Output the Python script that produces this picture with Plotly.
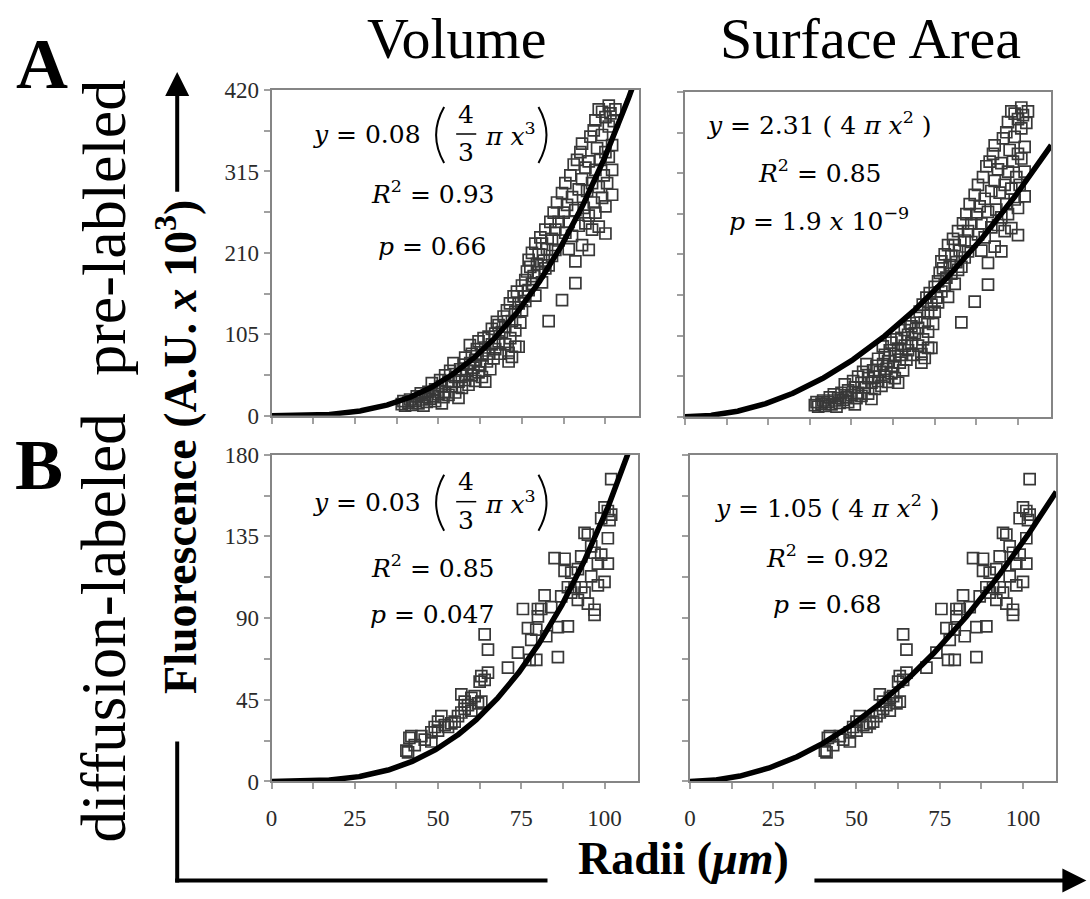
import numpy as np
import plotly.graph_objects as go

W, H = 1090, 899

# ---------------- data ----------------
# pre-labeled cells: radius (um) and fluorescence (A.U. x 10^3)
pre_x = [39, 39.5, 40, 41, 41.5, 42, 43, 43.5, 44, 44.7, 45, 45.5, 46, 46.5, 47, 47.5, 48, 48.5, 49, 49,
         50, 50.5, 51, 51, 51.5, 52, 52,
         53, 53, 53.5, 54, 54.5, 55, 55, 56, 56, 56.5, 57, 57, 57.5, 58, 58, 58.5, 59, 59.4, 59.5, 60, 60,
         60.5, 61, 61, 61.5, 62, 62, 62.5, 63, 63,
         63.5, 64, 64, 64.5, 65, 65, 65.5, 66, 66, 66.5, 67, 67, 67.5, 68, 68, 68.5, 69, 69.5, 70, 70, 70.5,
         71, 71, 71.4, 71.5, 72, 72, 72.5, 73, 73, 73, 73.5, 74, 74, 74.5, 75, 75, 75.5,
         76, 76, 76.5, 77, 77, 77.5, 78, 78, 78.5, 79, 79, 79.5, 80, 80, 80.5, 81, 81, 81.5, 82, 82, 82.5,
         83, 83, 83.5, 84, 84, 84.5, 85, 85, 85.5, 86, 86,
         87, 87, 87.5, 88, 88, 88.5, 89, 89, 89.5, 90, 90, 90.5, 91, 91, 91, 91.5, 92, 92, 92.5, 93, 93, 93,
         93.5, 94, 94, 94.5, 95, 95, 95, 95.5, 96, 96, 96.5, 96.5,
         97, 97, 97, 97.5, 98, 98, 98, 98.5, 99, 99, 99, 99.5, 100, 100, 100, 100, 100.5, 101, 101, 101,
         101.5, 102, 102, 102.5, 103, 102]
pre_y = [15, 19, 13, 17, 21, 14, 19, 25, 16, 29, 21, 13, 24, 18, 31, 22, 42, 25, 19, 34,
         28, 46, 16, 38, 24, 31, 52,
         44, 27, 58, 38, 68, 30, 50, 23, 44, 60, 36, 52, 66, 46, 75, 58, 40, 91, 68, 52, 80,
         62, 45, 72, 86, 56, 96, 66, 78, 50,
         100, 44, 88, 70, 102, 80, 60, 92, 112, 74, 106, 86, 121, 96, 117, 80, 108, 128, 92, 115, 136,
         70, 81, 145, 100, 76, 122, 154, 89, 134, 110, 160, 89, 145, 120, 168, 136, 154,
         175, 148, 186, 201, 162, 192, 170, 210, 180, 155, 222, 196, 185, 208, 230, 222, 172, 200, 240, 190, 215,
         122, 194, 250, 228, 206, 262, 240, 214, 275, 250, 226,
         149, 287, 262, 236, 300, 272, 215, 250, 310, 282, 232, 324, 171, 199, 265, 330, 245, 292, 340, 351, 305, 220,
         268, 320, 248, 290, 214, 328, 258, 360, 300, 240, 368, 275,
         381, 317, 262, 345, 244, 395, 295, 330, 362, 281, 392, 310, 385, 235, 270, 340, 300, 400, 373, 334,
         390, 349, 317, 380, 395, 285]

# diffusion-labeled cells
dif_x = [41, 40.5, 41.4, 42, 43, 45, 46, 48, 48, 49, 50, 50, 51, 52, 53, 54, 55, 56, 57, 57, 58, 58, 59, 60,
         60, 61, 62, 63, 62.5, 63, 64, 65, 64, 65, 71, 74, 75.5, 77, 77.5, 79.5, 78, 79.5, 80, 80, 81, 82.5,
         82, 84, 85, 86, 86, 88, 89, 88, 89, 90, 90, 91, 92, 92, 93, 94, 95, 94, 95, 96, 96, 97, 97, 97,
         98, 99, 99, 100, 100, 101, 101, 101, 101.5, 102, 102, 98, 93, 87]
dif_y = [16, 17, 24, 25, 20, 25, 23, 27, 22, 30, 28, 33, 36, 31, 30, 32, 33, 36, 38, 48, 40, 44, 42, 46,
         39, 47, 43, 44, 55, 58, 56, 60, 81, 72.6, 62.7, 71, 95, 84.5, 67, 67, 78, 83.6, 95, 91, 95, 80,
         102.5, 96, 123, 68.5, 85, 122.7, 85.4, 116, 107, 115, 104, 107, 117, 100, 107, 137, 136, 104, 98, 129.5, 113, 126, 94.6, 91.8,
         120, 125, 145, 110, 151, 149, 120, 134, 144, 166.6, 147, 108, 124, 102]

# fitted coefficients (volume: c*(4/3 pi x^3), surface: c*(4 pi x^2)), in A.U. x 10^3
vol_coef = [0.08, 0.035]
sa_coef = [2.31, 1.05]
vol_coef_label = ["0.08", "0.03"]
sa_coef_label = ["2.31", "1.05"]
vol_r2 = ["0.93", "0.85"]
vol_p = ["0.66", "0.047"]
sa_r2 = ["0.85", "0.92"]
sa_p = ["1.9 <i>x</i> 10<sup>\u22129</sup>", "0.68"]

col_titles = ["Volume", "Surface Area"]
row_titles = ["pre-lableled", "diffusion-labeled"]
y_ranges = [420, 180]
y_dticks = [105, 45]

# ---------------- figure ----------------
SERIF = "Liberation Serif, Times New Roman, serif"
MATH = "DejaVu Serif, serif"


def tx(x):
    return (x - 6.4) / 0.991


def ty(y):
    return (y - 11.9) / 0.973


def px(x):
    return tx(x) / W


def py(y):
    return 1 - ty(y) / H


fig = go.Figure()

xs = np.linspace(0, 110, 441)
datasets = [(pre_x, pre_y), (dif_x, dif_y)]
axis_ids = [["", "2"], ["3", "4"]]

for r in range(2):
    dx, dy = datasets[r]
    for c in range(2):
        aid = axis_ids[r][c]
        xa, ya = "x" + aid, "y" + aid
        if c == 0:
            fit = vol_coef[r] * (4.0 / 3.0) * np.pi * xs ** 3 / 1000.0
        else:
            fit = sa_coef[r] * 4.0 * np.pi * xs ** 2 / 1000.0
        fig.add_trace(go.Scatter(x=dx, y=dy, mode="markers", xaxis=xa, yaxis=ya,
                                 marker=dict(symbol="square-open", size=11, color="#383838",
                                             line=dict(width=1.7, color="#383838")),
                                 cliponaxis=True, showlegend=False))
        fig.add_trace(go.Scatter(x=xs, y=fit, mode="lines", xaxis=xa, yaxis=ya,
                                 line=dict(color="black", width=5.5), showlegend=False))

# panel domains (pixels in the picture)
panels = {
    "": dict(x=(271, 637), y=(90, 416)),
    "2": dict(x=(683, 1048), y=(92, 417)),
    "3": dict(x=(271, 636), y=(455, 782)),
    "4": dict(x=(688, 1053), y=(455, 782)),
}

tickfont = dict(family=SERIF, size=23, color="#2a2a2a")
layout = {}
for r in range(2):
    for c in range(2):
        aid = axis_ids[r][c]
        p = panels[aid]
        common = dict(showline=True, mirror=True, linecolor="#858585", linewidth=2,
                      ticks="outside", ticklen=6, tickcolor="#a0a0a0", tickwidth=1.5,
                      showgrid=False, zeroline=False, tickfont=tickfont)
        xkey = "xaxis" + aid
        ykey = "yaxis" + aid
        layout[xkey] = dict(common, domain=[px(p["x"][0]), px(p["x"][1])], range=[0, 110],
                            tick0=0, dtick=25, anchor="y" + aid, showticklabels=(r == 1),
                            ticklabelstandoff=9,
                            minor=dict(dtick=12.5, ticks="outside", ticklen=6, tickcolor="#a0a0a0",
                                       tickwidth=1.5, showgrid=False))
        layout[ykey] = dict(common, domain=[py(p["y"][1]), py(p["y"][0])], range=[0, y_ranges[r]],
                            tick0=0, dtick=y_dticks[r], anchor="x" + aid, showticklabels=(c == 0),
                            minor=dict(dtick=y_dticks[r] / 2, ticks="outside", ticklen=6,
                                       tickcolor="#a0a0a0", tickwidth=1.5, showgrid=False))

annotations = []
shapes = []


def txt(x, y, s, size, family=SERIF, angle=0, xanchor="center", color="black", yanchor="middle"):
    annotations.append(dict(x=px(x), y=py(y), xref="paper", yref="paper", text=s,
                            showarrow=False, textangle=angle, xanchor=xanchor, yanchor=yanchor,
                            font=dict(family=family, size=size, color=color)))


# column titles, panel letters, row labels
txt(455, 38, col_titles[0], 58)
txt(868, 38, col_titles[1], 58)
txt(42, 64, "<b>A</b>", 72)
txt(39, 465, "<b>B</b>", 72)
txt(104, 228, row_titles[0], 62, angle=-90)
txt(104, 628, row_titles[1], 63, angle=-90)
txt(176, 447, "<b>Fluorescence (A.U. <i>x</i> 10<sup>3</sup>)</b>", 46, angle=-90)
# x-axis title: bottom of its box sits on the figure's lower edge so nothing is clipped
annotations.append(dict(x=px(682), y=0, xref="paper", yref="paper",
                        text="<b>Radii (<i>\u03bcm</i>)</b>", showarrow=False,
                        xanchor="center", yanchor="bottom",
                        font=dict(family=SERIF, size=46, color="black")))

# volume equations (stacked fraction)
EQ = 25
for r, (yc, rc, pc) in enumerate([(135, 193, 247), (503, 567, 615)]):
    txt(422, yc, "<i>y</i> = " + vol_coef_label[r], EQ, family=MATH, xanchor="right")
    txt(465, yc - 21, "4", EQ, family=MATH)
    txt(465, yc + 18, "3", EQ, family=MATH)
    shapes.append(dict(type="line", xref="paper", yref="paper", x0=px(455), x1=px(475),
                       y0=py(yc - 1), y1=py(yc - 1), line=dict(color="black", width=1.5)))
    txt(509, yc, "<i>\u03c0 x</i><sup>3</sup>", EQ, family=MATH)
    shapes.append(dict(type="path", xref="paper", yref="paper",
                       path="M %f,%f Q %f,%f %f,%f" % (px(443), py(yc - 28), px(427), py(yc),
                                                       px(443), py(yc + 28)),
                       line=dict(color="black", width=2)))
    shapes.append(dict(type="path", xref="paper", yref="paper",
                       path="M %f,%f Q %f,%f %f,%f" % (px(537), py(yc - 28), px(553), py(yc),
                                                       px(537), py(yc + 28)),
                       line=dict(color="black", width=2)))
    txt(431, rc, "<i>R</i><sup>2</sup> = " + vol_r2[r], EQ, family=MATH)
    txt(431, pc, "<i>p</i> = " + vol_p[r], EQ, family=MATH)

# surface area equations
for r, (cx, yc, rc, pc) in enumerate([(817, 123, 172, 220), (825, 507, 557, 605)]):
    txt(cx, yc, "<i>y</i> = " + sa_coef_label[r] + " ( 4 <i>\u03c0 x</i><sup>2</sup> )", EQ, family=MATH)
    txt(cx, rc, "<i>R</i><sup>2</sup> = " + sa_r2[r], EQ, family=MATH)
    txt(cx, pc, "<i>p</i> = " + sa_p[r], EQ, family=MATH)

# axis arrows / lines
AX = 177
shapes.append(dict(type="line", xref="paper", yref="paper", x0=px(AX), x1=px(AX),
                   y0=py(742), y1=py(883), line=dict(color="black", width=4)))
shapes.append(dict(type="line", xref="paper", yref="paper", x0=px(AX - 2), x1=px(546),
                   y0=py(881), y1=py(881), line=dict(color="black", width=4)))
annotations.append(dict(x=px(AX), y=py(72), xref="paper", yref="paper", text="",
                        showarrow=True, ax=0, ay=ty(190) - ty(72), arrowhead=2, arrowsize=1.2,
                        arrowwidth=4, arrowcolor="black"))
annotations.append(dict(x=px(1083), y=py(881), xref="paper", yref="paper", text="",
                        showarrow=True, ax=tx(812) - tx(1083), ay=0, arrowhead=2, arrowsize=1.2,
                        arrowwidth=4, arrowcolor="black"))

fig.update_layout(**layout)
fig.update_layout(width=W, height=H, margin=dict(l=0, r=0, t=0, b=0),
                  paper_bgcolor="white", plot_bgcolor="white", showlegend=False,
                  annotations=annotations, shapes=shapes)

fig.write_html("out.html", config={"displayModeBar": False},
               post_script="document.body.style.margin='0px';"
                           "document.body.style.overflow='hidden';"
                           "document.documentElement.style.overflow='hidden';")
